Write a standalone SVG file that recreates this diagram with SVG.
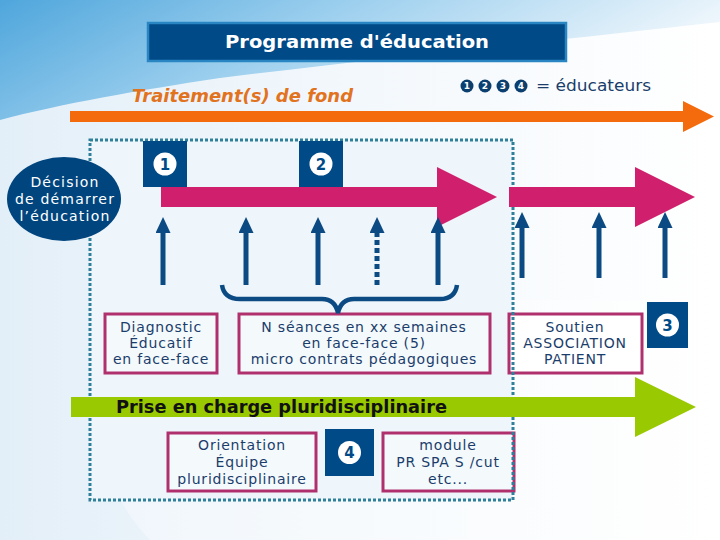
<svg xmlns="http://www.w3.org/2000/svg" width="720" height="540" viewBox="0 0 720 540">
<defs>
<linearGradient id="bgL" x1="0" y1="0" x2="1" y2="0">
<stop offset="0" stop-color="#e3eff8"/>
<stop offset="0.5" stop-color="#f3f8fc"/>
<stop offset="1" stop-color="#ffffff"/>
</linearGradient>
<linearGradient id="band" x1="0" y1="0" x2="1" y2="0.3">
<stop offset="0" stop-color="#4fa6dc"/>
<stop offset="0.45" stop-color="#9ccfee"/>
<stop offset="1" stop-color="#f4f9fd"/>
</linearGradient>
<marker id="ah" markerUnits="userSpaceOnUse" markerWidth="16" markerHeight="15" refX="0" refY="7.5" orient="auto">
<path d="M0,0 L16,7.5 L0,15 Z" fill="#0b4a82"/>
</marker>
<style>
.box{fill:#f4f9fc;stroke:#b0306e;stroke-width:3}
.nbox{fill:#004a87}
.ncirc{fill:#ffffff}
.ndig{font-family:"DejaVu Sans",sans-serif;font-weight:bold;font-size:15px;fill:#004a87;text-anchor:middle}
.lcirc{fill:#0b3f6f}
.ldig{font-family:"DejaVu Sans",sans-serif;font-weight:bold;font-size:9px;fill:#ffffff;text-anchor:middle}
.t{font-family:"DejaVu Sans",Verdana,sans-serif;font-size:14px;fill:#1a3d6b;text-anchor:middle;letter-spacing:0.8px}
.up{stroke:#0b4a82;stroke-width:5;fill:none;marker-end:url(#ah)}
</style>
</defs>
<rect width="720" height="540" fill="url(#bgL)"/>
<path d="M0,0 H720 V22 C560,40 380,58 220,78 C140,90 60,104 0,120 Z" fill="url(#band)"/>
<path d="M150,540 C90,480 80,380 140,300 L720,300 V540 Z" fill="#ffffff" opacity="0.35"/>

<g id="title">
<rect x="148" y="23" width="418" height="38" fill="#004a87" stroke="#2a86c2" stroke-width="2.5"/>
<text x="357" y="48" font-family="DejaVu Sans,Verdana,sans-serif" font-weight="bold" font-size="18" fill="#ffffff" text-anchor="middle" textLength="264" lengthAdjust="spacingAndGlyphs">Programme d'éducation</text>
</g>

<g id="legend">
<circle class="lcirc" cx="467" cy="86" r="6.5"/><text class="ldig" x="467" y="89.2">1</text>
<circle class="lcirc" cx="485" cy="86" r="6.5"/><text class="ldig" x="485" y="89.2">2</text>
<circle class="lcirc" cx="503" cy="86" r="6.5"/><text class="ldig" x="503" y="89.2">3</text>
<circle class="lcirc" cx="521" cy="86" r="6.5"/><text class="ldig" x="521" y="89.2">4</text>
<text x="536" y="91" font-family="DejaVu Sans,Verdana,sans-serif" font-size="16" fill="#1a3d6b" textLength="115" lengthAdjust="spacingAndGlyphs">= éducateurs</text>
</g>

<g id="traitement">
<text x="132" y="102" font-family="DejaVu Sans,Verdana,sans-serif" font-weight="bold" font-style="italic" font-size="17.5" fill="#e2731e" textLength="221" lengthAdjust="spacingAndGlyphs">Traitement(s) de fond</text>
<path d="M70,111 H683 V101 L714,116.5 L683,132 V122 H70 Z" fill="#f36b0c"/>
</g>

<rect id="zone" x="90" y="140" width="423" height="360" fill="#eef6fb"/>

<g id="boxes">
<g id="diag"><rect class="box" x="105" y="314" width="112" height="59"/>
<text class="t" x="161" y="332">Diagnostic</text><text class="t" x="161" y="348">Éducatif</text><text class="t" x="161" y="364">en face-face</text></g>
<g id="seances"><rect class="box" x="239" y="314" width="251" height="59"/>
<text class="t" x="364" y="332">N séances en xx semaines</text><text class="t" x="364" y="348">en face-face (5)</text><text class="t" x="364" y="364">micro contrats pédagogiques</text></g>
<g id="soutien"><rect class="box" x="509" y="314" width="133" height="59" fill="#ffffff" style="fill:#ffffff"/>
<text class="t" x="575" y="332">Soutien</text><text class="t" x="575" y="348">ASSOCIATION</text><text class="t" x="575" y="364">PATIENT</text></g>
<g id="orient"><rect class="box" x="168" y="433" width="148" height="58"/>
<text class="t" x="242" y="450">Orientation</text><text class="t" x="242" y="467">Équipe</text><text class="t" x="242" y="484">pluridisciplinaire</text></g>
<g id="module"><rect class="box" x="383" y="433" width="131" height="58"/>
<text class="t" x="448" y="450">module</text><text class="t" x="448" y="467">PR SPA S /cut</text><text class="t" x="448" y="484">etc...</text></g>
</g>

<rect x="90" y="140" width="423" height="360" fill="none" stroke="#2e7f99" stroke-width="3" stroke-dasharray="3,2"/>

<g id="decision">
<ellipse cx="64" cy="199" rx="57" ry="42" fill="#00457e"/>
<g font-family="DejaVu Sans,Verdana,sans-serif" font-size="14" fill="#ffffff" text-anchor="middle" letter-spacing="1.2">
<text x="65" y="187">Décision</text><text x="65" y="204">de démarrer</text><text x="65" y="221">l’éducation</text></g>
</g>

<g id="n1"><rect class="nbox" x="143" y="141" width="44" height="46"/><circle class="ncirc" cx="165" cy="164" r="11.5"/><text class="ndig" x="165" y="169.5">1</text></g>
<g id="n2"><rect class="nbox" x="299" y="141" width="44" height="46"/><circle class="ncirc" cx="321" cy="164" r="11.5"/><text class="ndig" x="321" y="169.5">2</text></g>
<g id="n3"><rect class="nbox" x="647" y="302" width="41" height="46"/><circle class="ncirc" cx="667.5" cy="325" r="11.5"/><text class="ndig" x="667.5" y="330.5">3</text></g>
<g id="n4"><rect class="nbox" x="325" y="429" width="49" height="47"/><circle class="ncirc" cx="349.5" cy="452.5" r="11.5"/><text class="ndig" x="349.5" y="458">4</text></g>

<g id="connectors">
<path d="M161,187 H437 V167 L497,197 L437,227 V207 H161 Z" fill="#cf1f6d"/>
<path d="M509,187 H635 V167 L695,197 L635,227 V207 H509 Z" fill="#cf1f6d"/>
<path d="M71,397 H635 V377 L696,407 L635,437 V417 H71 Z" fill="#99c900"/>
<line class="up" x1="163" y1="285" x2="163" y2="233"/>
<line class="up" x1="246" y1="285" x2="246" y2="233"/>
<line class="up" x1="318" y1="285" x2="318" y2="233"/>
<line class="up" x1="377" y1="285" x2="377" y2="233" stroke-dasharray="5,3"/>
<line class="up" x1="438" y1="285" x2="438" y2="233"/>
<line class="up" x1="522" y1="278" x2="522" y2="228"/>
<line class="up" x1="599" y1="278" x2="599" y2="228"/>
<line class="up" x1="665" y1="278" x2="665" y2="228"/>
<path d="M222,285 Q224,299 240,299 H322 Q335,299 338,313 Q341,299 354,299 H440 Q455,299 457,285" fill="none" stroke="#0b4a82" stroke-width="4.5"/>
</g>

<text x="116" y="413" font-family="DejaVu Sans,Verdana,sans-serif" font-weight="bold" font-size="17" fill="#111111" textLength="331" lengthAdjust="spacingAndGlyphs">Prise en charge pluridisciplinaire</text>
</svg>
